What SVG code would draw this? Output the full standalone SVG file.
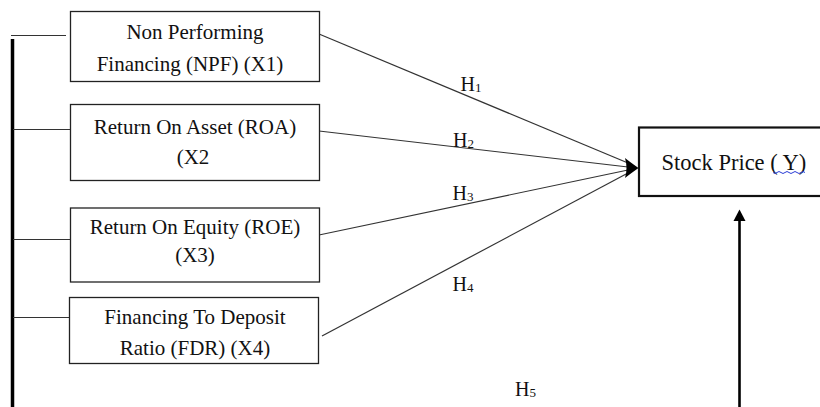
<svg xmlns="http://www.w3.org/2000/svg" width="820" height="407" viewBox="0 0 820 407">
  <style>
    .box { fill: #fff; stroke: #222; stroke-width: 1.3; }
    .ybox { fill: #fff; stroke: #111; stroke-width: 2.2; }
    .t { font-family: "Liberation Serif", "Times New Roman", serif; font-size: 21px; fill: #111; text-anchor: middle; }
    .ty { font-family: "Liberation Serif", "Times New Roman", serif; font-size: 22.5px; fill: #111; }
    .h { font-family: "Liberation Serif", "Times New Roman", serif; font-size: 20px; fill: #111; }
    .sub { font-size: 13px; }
    .ln { stroke: #333; stroke-width: 1.2; fill: none; }
    .thick { stroke: #000; stroke-width: 3.5; fill: none; }
  </style>
  <rect width="820" height="407" fill="#fff"/>

  <g id="connectors">
    <line class="thick" x1="12.5" y1="39" x2="12.5" y2="407"/>
    <line class="ln" x1="11" y1="35.5" x2="66" y2="35.5"/>
    <line class="ln" x1="13" y1="129.5" x2="70" y2="129.5"/>
    <line class="ln" x1="13" y1="239.5" x2="70" y2="239.5"/>
    <line class="ln" x1="13" y1="317.5" x2="69" y2="317.5"/>
    <line class="ln" x1="319" y1="34" x2="628" y2="163"/>
    <line class="ln" x1="319" y1="131" x2="628" y2="167"/>
    <line class="ln" x1="319" y1="235" x2="628" y2="170"/>
    <line class="ln" x1="322" y1="336" x2="628" y2="173"/>
    <path d="M625,158 Q630,162 638.5,168 Q630,174 625,178 Q628,168 625,158 Z" fill="#000"/>
    <line x1="739.5" y1="407" x2="739.5" y2="218" stroke="#000" stroke-width="2.6"/>
    <polygon points="733.5,221 739.5,209.5 745.5,221" fill="#000"/>
    <text class="h" x="460.5" y="91">H<tspan class="sub" dy="1">1</tspan></text>
    <text class="h" x="453" y="147">H<tspan class="sub" dy="1">2</tspan></text>
    <text class="h" x="452.5" y="200">H<tspan class="sub" dy="1">3</tspan></text>
    <text class="h" x="452.5" y="291">H<tspan class="sub" dy="1">4</tspan></text>
    <text class="h" x="515" y="396">H<tspan class="sub" dy="1">5</tspan></text>
  </g>

  <g id="x1">
    <rect class="box" x="70.5" y="11.5" width="249" height="70"/>
    <text class="t" x="195" y="39">Non Performing</text>
    <text class="t" x="190" y="71">Financing (NPF) (X1)</text>
  </g>
  <g id="x2">
    <rect class="box" x="70.5" y="104.5" width="249" height="76"/>
    <text class="t" x="195" y="134">Return On Asset (ROA)</text>
    <text class="t" x="193" y="164">(X2</text>
  </g>
  <g id="x3">
    <rect class="box" x="70.5" y="208" width="249" height="74"/>
    <text class="t" x="195" y="234">Return On Equity (ROE)</text>
    <text class="t" x="195" y="262">(X3)</text>
  </g>
  <g id="x4">
    <rect class="box" x="69.5" y="297.5" width="249" height="66"/>
    <text class="t" x="195" y="324">Financing To Deposit</text>
    <text class="t" x="195" y="355">Ratio (FDR) (X4)</text>
  </g>
  <g id="y">
    <rect class="ybox" x="639" y="127.5" width="190" height="68.5"/>
    <text class="ty" x="661.5" y="170" xml:space="preserve">Stock Price ( Y)</text>
    <path d="M773,172.5 q2,2 4,0 t4,0 t4,0 t4,0 t4,0 t4,0 t4,0 t4,0" fill="none" stroke="#2a3bd6" stroke-width="1"/>
  </g>
</svg>
